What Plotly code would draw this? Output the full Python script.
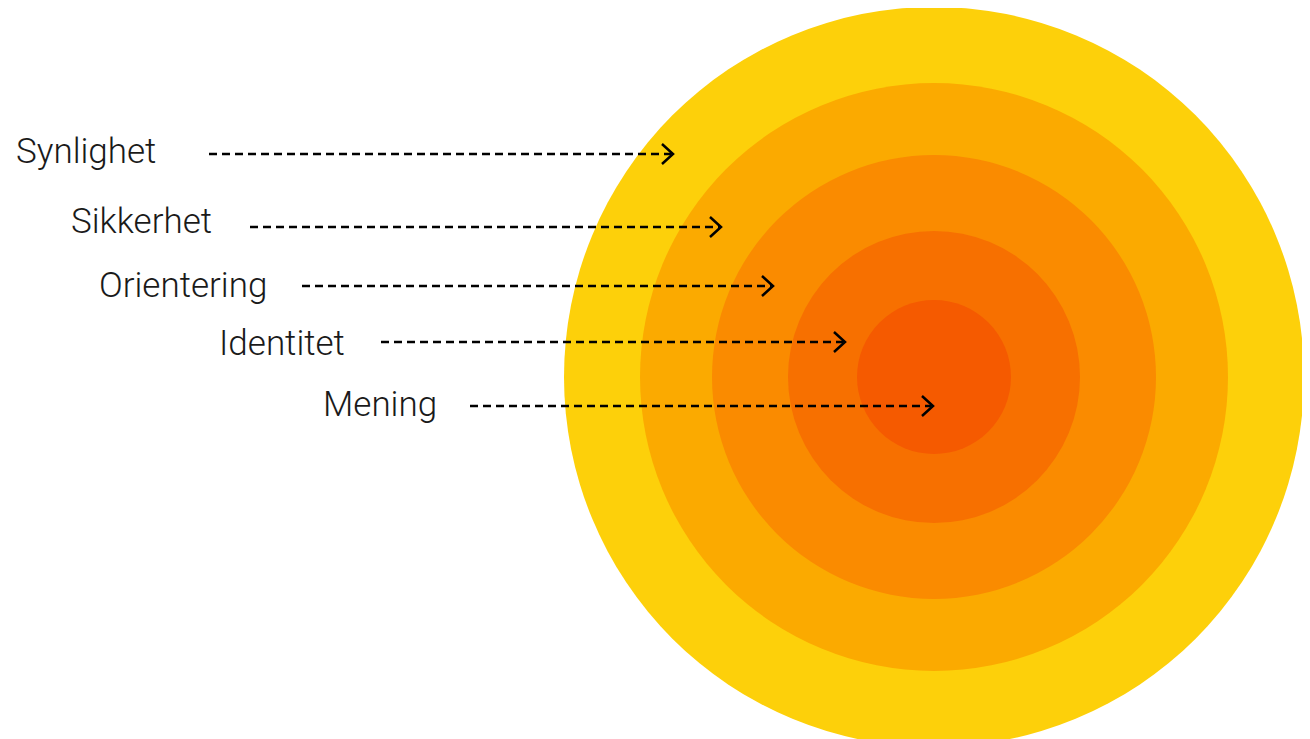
import plotly.graph_objects as go

# concentric rings (outer -> inner)
ring_radius = [370, 294, 222, 146, 77]
ring_color = ['#FDD00A', '#FBAA00', '#FA8B00', '#F77000', '#F55A00']
center_x, center_y = 934, 377

# labels and their arrows
labels = ['Synlighet', 'Sikkerhet', 'Orientering', 'Identitet', 'Mening']
label_x = [14, 69, 97, 217, 321]
label_y = [151, 221, 285, 343, 404]
arrow_start = [209, 250, 302, 381, 470]
arrow_end = [673, 721, 773, 845, 933]
arrow_y = [154, 227, 286, 342, 406]

fig = go.Figure()

for r, c in zip(ring_radius, ring_color):
    fig.add_shape(type='circle', x0=center_x - r, x1=center_x + r, y0=center_y - r, y1=center_y + r,
                  fillcolor=c, line=dict(width=0), layer='below')

for x0, x1, y in zip(arrow_start, arrow_end, arrow_y):
    fig.add_trace(go.Scatter(x=[x0, x1 - 2], y=[y, y], mode='lines',
                             line=dict(color='black', width=2.5, dash='8px,5px')))
    fig.add_trace(go.Scatter(x=[x1 - 11, x1, x1 - 11], y=[y - 10, y, y + 10], mode='lines',
                             line=dict(color='black', width=2.5)))

for t, x, y in zip(labels, label_x, label_y):
    fig.add_annotation(x=x, y=y, text=t, showarrow=False, xanchor='left', yanchor='middle',
                       font=dict(family='Roboto', size=35, color='#1a1a1a', weight=300))

fig.update_layout(width=1310, height=739, margin=dict(l=0, r=0, t=0, b=0), showlegend=False,
                  plot_bgcolor='white', paper_bgcolor='white')
# the page body adds an 8px offset, so shift the ranges to keep pixel positions
fig.update_xaxes(range=[8, 1318], visible=False)
fig.update_yaxes(range=[747, 8], visible=False)

fig.write_html("out.html")
